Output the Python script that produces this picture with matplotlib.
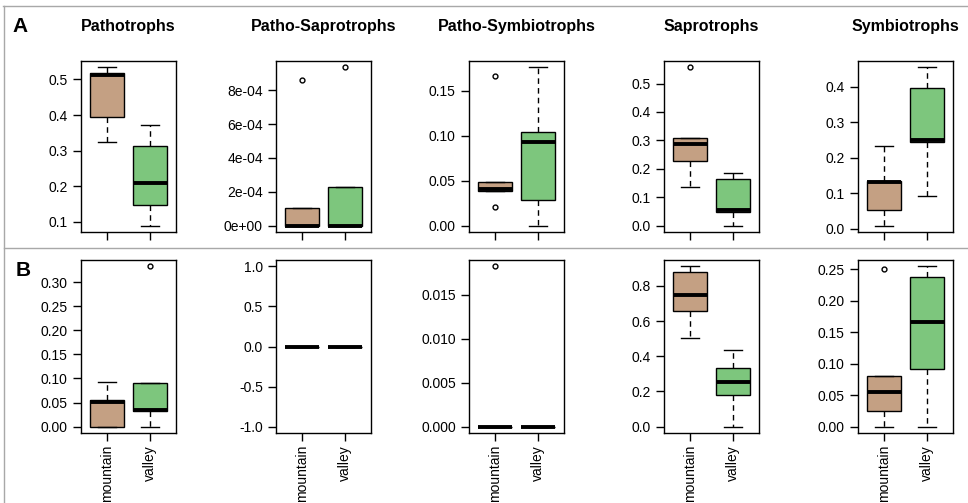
import matplotlib.pyplot as plt
from matplotlib.lines import Line2D
import numpy as np

plt.rcParams['font.family'] = ['Liberation Sans', 'DejaVu Sans']

groups = ['mountain', 'valley']
guilds = ['Pathotrophs', 'Patho-Saprotrophs', 'Patho-Symbiotrophs', 'Saprotrophs', 'Symbiotrophs']

# five-number summaries per panel: [whisker low, q1, median, q3, whisker high]
rowA_mountain = [[0.324, 0.395, 0.513, 0.518, 0.534],
                 [0.0, 0.0, 0.0, 1.04e-4, 1.04e-4],
                 [0.0386, 0.0386, 0.0405, 0.0485, 0.0485],
                 [0.137, 0.229, 0.286, 0.308, 0.308],
                 [0.0093, 0.052, 0.1307, 0.1346, 0.234]]
rowA_valley = [[0.089, 0.147, 0.210, 0.312, 0.372],
               [0.0, 0.0, 0.0, 2.28e-4, 2.28e-4],
               [0.0, 0.028, 0.0927, 0.1037, 0.176],
               [0.0, 0.047, 0.0537, 0.164, 0.185],
               [0.0934, 0.2456, 0.2495, 0.395, 0.454]]
rowA_mountain_out = [[], [8.59e-4], [0.166, 0.0206], [0.557], []]
rowA_valley_out = [[], [9.35e-4], [], [], []]

rowB_mountain = [[0.0, 0.0, 0.0503, 0.0545, 0.0923],
                 [0.0, 0.0, 0.0, 0.0, 0.0],
                 [0.0, 0.0, 0.0, 0.0, 0.0],
                 [0.501, 0.655, 0.748, 0.880, 0.911],
                 [0.0, 0.0252, 0.0551, 0.0801, 0.0801]]
rowB_valley = [[0.0, 0.0315, 0.0349, 0.0915, 0.0915],
               [0.0, 0.0, 0.0, 0.0, 0.0],
               [0.0, 0.0, 0.0, 0.0, 0.0],
               [0.0, 0.182, 0.253, 0.333, 0.438],
               [0.0, 0.0913, 0.167, 0.238, 0.2548]]
rowB_mountain_out = [[], [], [0.01825], [], [0.25]]
rowB_valley_out = [[0.333], [], [], [], []]

# y tick spacing per panel
rowA_steps = [0.1, 2e-4, 0.05, 0.1, 0.1]
rowB_steps = [0.05, 0.5, 0.005, 0.2, 0.05]

colors = ['#C4A083', '#7DC67D']

W, H = 968, 503
fig = plt.figure(figsize=(W / 100, H / 100), dpi=100)

ax_left = [81, 276, 469, 664, 858]
ax_w = 95
rows_y = [(61, 232), (260, 433)]


def fmt(v, step):
    if step < 1e-3:
        return '%.0e' % v
    dec = max(0, int(np.ceil(-np.log10(step) - 1e-9)))
    return '%.*f' % (dec, v)


def panel(ax, mtn, val, mtn_out, val_out, step, show_x):
    stats = []
    for s, out, lab in [(mtn, mtn_out, groups[0]), (val, val_out, groups[1])]:
        stats.append(dict(whislo=s[0], q1=s[1], med=s[2], q3=s[3], whishi=s[4],
                          fliers=np.array(out), label=lab))
    bp = ax.bxp(stats, positions=[1, 2], widths=0.8, capwidths=0.4, patch_artist=True,
                boxprops=dict(edgecolor='black', linewidth=1.0),
                whiskerprops=dict(color='black', linewidth=1.0, linestyle=(0, (4, 3))),
                capprops=dict(color='black', linewidth=1.0),
                medianprops=dict(color='black', linewidth=2.8, solid_capstyle='butt'),
                flierprops=dict(marker='o', markersize=3.5, markerfacecolor='none',
                                markeredgecolor='black', markeredgewidth=1.0))
    for patch, c in zip(bp['boxes'], colors):
        patch.set_facecolor(c)

    # R-style limits: data range extended by 4 %
    vals = list(mtn) + list(val) + list(mtn_out) + list(val_out)
    lo, hi = min(vals), max(vals)
    if lo == hi:
        lo, hi = lo - 1, hi + 1
    pad = 0.04 * (hi - lo)
    ylo, yhi = lo - pad, hi + pad
    ax.set_ylim(ylo, yhi)
    ax.set_xlim(0.4, 2.6)

    k0 = int(np.ceil(ylo / step - 1e-9))
    k1 = int(np.floor(yhi / step + 1e-9))
    ticks = np.array([k * step for k in range(k0, k1 + 1)])
    ticks = np.round(ticks, 10) + 0.0
    ax.set_yticks(ticks)
    ax.set_yticklabels([fmt(t, step) for t in ticks])
    ax.set_xticks([1, 2])
    if show_x:
        ax.set_xticklabels(groups, rotation=90, va='top')
    else:
        ax.set_xticklabels([])
    ax.tick_params(direction='out', length=5.5, width=1.0, labelsize=10, pad=3)
    ax.tick_params(axis='y', pad=4)
    for sp in ax.spines.values():
        sp.set_linewidth(1.0)


for r, (mtn_row, val_row, mo_row, vo_row, steps) in enumerate([
        (rowA_mountain, rowA_valley, rowA_mountain_out, rowA_valley_out, rowA_steps),
        (rowB_mountain, rowB_valley, rowB_mountain_out, rowB_valley_out, rowB_steps)]):
    y0, y1 = rows_y[r]
    for i in range(5):
        ax = fig.add_axes([ax_left[i] / W, 1 - y1 / H, ax_w / W, (y1 - y0) / H])
        panel(ax, mtn_row[i], val_row[i], mo_row[i], vo_row[i], steps[i], show_x=(r == 1))
        if r == 0:
            fig.text((ax_left[i] + ax_w / 2) / W, 1 - 27 / H, guilds[i],
                     ha='center', va='center', fontsize=11.5, fontweight='bold')

# panel letters
fig.text(12 / W, 1 - 27 / H, 'A', ha='left', va='center', fontsize=15, fontweight='bold')
fig.text(16 / W, 1 - 270 / H, 'B', ha='left', va='center', fontsize=15, fontweight='bold')

# frame lines
grey = '#A8A8A8'
fig.add_artist(Line2D([3 / W, 1], [1 - 6 / H, 1 - 6 / H], color=grey, lw=1.0))
fig.add_artist(Line2D([4 / W, 4 / W], [0, 1 - 6 / H], color=grey, lw=1.0))
fig.add_artist(Line2D([4 / W, 1], [1 - 248 / H, 1 - 248 / H], color=grey, lw=1.0))

fig.savefig('out.png', dpi=100)
